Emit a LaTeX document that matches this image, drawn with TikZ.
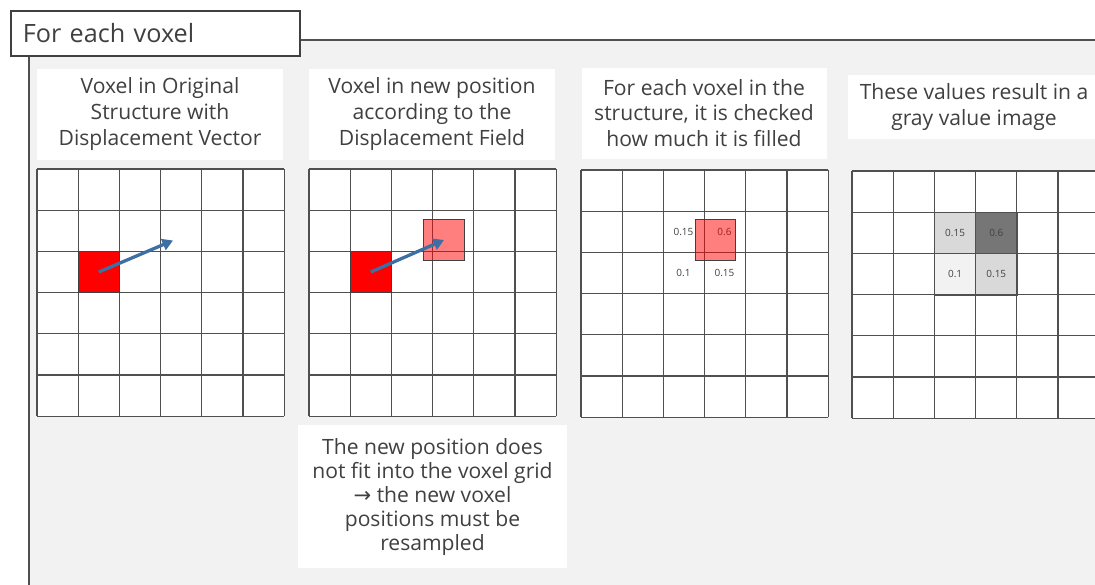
\documentclass[tikz,border=0pt]{standalone}
\usepackage{fontspec}
\setmainfont{Open Sans}
\newfontfamily\arrowfont{DejaVu Sans}
\usetikzlibrary{arrows.meta,positioning}
\definecolor{ink}{HTML}{404040}
\definecolor{panelbg}{HTML}{F2F2F2}
\definecolor{gridcol}{HTML}{505050}
\definecolor{vecblue}{HTML}{3D6FA5}
\definecolor{shadelight}{HTML}{D9D9D9}
\definecolor{shadedark}{HTML}{767676}
\definecolor{shadefaint}{HTML}{F2F2F2}
\newcommand{\cell}{41.2}

\begin{document}
\begin{tikzpicture}[x=0.03cm, y=-0.03cm,
    >=Stealth,
    txtbox/.style={rectangle, fill=white, text=ink, align=center,
                   minimum width=7.35cm, minimum height=2.73cm, inner sep=0pt,
                   font=\fontsize{18}{22}\selectfont},
    titlebox/.style={rectangle, draw=ink, line width=1.4pt, fill=white,
                     text=ink, anchor=north west, align=left,
                     minimum width=8.67cm, minimum height=1.35cm,
                     inner xsep=0.36cm, text width=7.95cm,
                     font=\fontsize{21.5}{24}\selectfont},
    gridln/.style={draw=gridcol, line width=1pt},
    voxel/.style={rectangle, draw=ink, line width=0.9pt, fill=red,
                  minimum size=1.236cm, inner sep=0pt},
    moved/.style={voxel, fill opacity=0.5, minimum size=1.22cm},
    val/.style={text=ink, inner sep=0pt, font=\fontsize{8.5}{10}\selectfont},
    shade/.style={rectangle, draw=gridcol, line width=1pt, inner sep=0pt,
                  minimum size=1.236cm, text=ink,
                  font=\fontsize{8.5}{10}\selectfont},
    vec/.style={-{Triangle[length=9pt,width=10pt]}, line width=2.8pt,
                draw=vecblue}
  ]
  \clip (0,0) rectangle (1095,584);
  \fill[white] (0,0) rectangle (1095,584);
  \draw[fill=panelbg, draw=gridcol, line width=0.9pt] (29,40) rectangle (1120,620);
  \node[titlebox] (title) at (10,10) {For each voxel};

  \node[txtbox] (step1) at (160,114) {Voxel in Original\\Structure with\\Displacement Vector};
  \node[txtbox] (step2) at (432,114) {Voxel in new position\\according to the\\Displacement Field};
  \node[txtbox] (step3) at (704,113) {For each voxel in the\\structure, it is checked\\how much it is filled};
  \node[txtbox, minimum width=7.56cm, minimum height=1.92cm,
        font=\fontsize{18}{23}\selectfont] (step4) at (974,107)
    {These values result in a\\gray value image};

  \foreach \gx/\gy in {37/169, 309/169, 581/170, 852/171}{
    \fill[white] (\gx,\gy) rectangle ++(247.2,247.2);
    \foreach \i in {0,...,6}{
      \draw[gridln] (\gx+\i*\cell,\gy) -- ++(0,247.2);
      \draw[gridln] (\gx,\gy+\i*\cell) -- ++(247.2,0);
    }
  }

  \node[voxel] (red1) at (98.8,272) {};
  \coordinate (tip1) at (173,240.5);
  \draw[vec] (red1.center) -- (tip1);

  \node[voxel] (red2) at (370.8,272) {};
  \node[moved] (pink2) at (444,240) {};
  \draw[vec] (red2.center) -- (pink2.center);

  \node[val] (a15) at (683.5,231.6) {0.15};
  \node[val] (a6) at (724.5,231.6) {0.6};
  \node[val] (a1) at (683.5,272.7) {0.1};
  \node[val] (b15) at (724.5,272.7) {0.15};
  \node[moved] (pink3) at (715.5,240.3) {};

  \node[shade, fill=shadelight] (g15) at (955.1,233.2) {0.15};
  \node[shade, fill=shadedark] (g6) at (996.3,233.2) {0.6};
  \node[shade, fill=shadefaint] (g1) at (955.1,274.4) {0.1};
  \node[shade, fill=shadelight] (h15) at (996.3,274.4) {0.15};

  \coordinate (foot2) at (432.5,416);
  \node[txtbox, minimum width=8.04cm, minimum height=4.29cm,
        font=\fontsize{18}{20.5}\selectfont,
        below=0.27cm of foot2] (note) {The new position does\\not fit into the voxel grid\\{\arrowfont →} the new voxel\\positions must be\\resampled};
\end{tikzpicture}
\end{document}
